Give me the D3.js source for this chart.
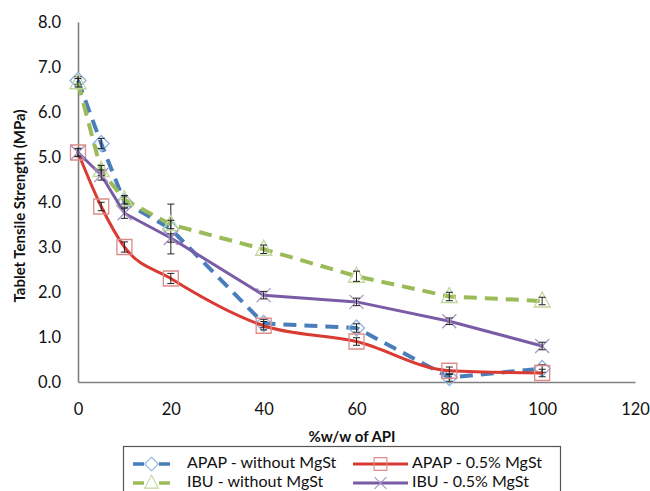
<!DOCTYPE html>
<html>
<head>
<meta charset="utf-8">
<script src="https://cdn.jsdelivr.net/npm/d3@7"></script>
<style>
  html, body { margin: 0; padding: 0; background: #fff; }
  svg { display: block; font-family: Lato, "Open Sans", sans-serif; }
</style>
</head>
<body>
<svg id="chart" width="650" height="491"></svg>
<script>
// API content (%w/w) at which tablets were compacted
const apiContent = [0, 5, 10, 20, 40, 60, 80, 100];

// Tensile strength (MPa) per formulation
const apapWithout = [6.7, 5.3, 4.0, 3.4, 1.3, 1.2, 0.1, 0.3];
const apapMgSt    = [5.1, 3.9, 3.0, 2.3, 1.25, 0.9, 0.25, 0.2];
const ibuWithout  = [6.65, 4.7, 4.05, 3.5, 2.95, 2.35, 1.9, 1.8];
const ibuMgSt     = [5.1, 4.6, 3.75, 3.2, 1.93, 1.78, 1.35, 0.8];

// Standard deviations (MPa)
const apapWithoutSd = [0.05, 0.08, 0.08, 0.52, 0.06, 0.06, 0.05, 0.05];
const apapMgStSd    = [0.06, 0.06, 0.08, 0.08, 0.06, 0.05, 0.05, 0.05];
const ibuWithoutSd  = [0.06, 0.08, 0.06, 0.06, 0.06, 0.08, 0.06, 0.05];
const ibuMgStSd     = [0.05, 0.08, 0.08, 0.06, 0.05, 0.05, 0.04, 0.05];

const seriesNames = ["APAP - without MgSt", "APAP - 0.5% MgSt", "IBU - without MgSt", "IBU - 0.5% MgSt"];
const yTicks = [0, 1, 2, 3, 4, 5, 6, 7, 8];
const xTicks = [0, 20, 40, 60, 80, 100, 120];

const svg = d3.select("#chart");

const x = d3.scaleLinear().domain([0, 120]).range([78, 635]);
const y = d3.scaleLinear().domain([0, 8]).range([382, 22]);

const series = [
  { name: seriesNames[0], values: apapWithout, sd: apapWithoutSd, color: "#4a7ebb", dash: "13,8", width: 4, marker: "diamond",  mColor: "#8db3e2", curve: d3.curveLinear },
  { name: seriesNames[1], values: apapMgSt,    sd: apapMgStSd,    color: "#d93a32", dash: null,   width: 3, marker: "square",   mColor: "#dc8c8a", curve: d3.curveMonotoneX },
  { name: seriesNames[2], values: ibuWithout,  sd: ibuWithoutSd,  color: "#9bbb59", dash: "13,8", width: 4, marker: "triangle", mColor: "#c3d69b", curve: d3.curveLinear },
  { name: seriesNames[3], values: ibuMgSt,     sd: ibuMgStSd,     color: "#7a5ca6", dash: null,   width: 3, marker: "cross",    mColor: "#a995c6", curve: d3.curveLinear }
];

// Axes (lines only, no tick marks)
const yAxis = svg.append("g").attr("transform", `translate(${x(0)},0)`)
  .call(d3.axisLeft(y).tickValues(yTicks).tickSize(0).tickPadding(17).tickFormat(d3.format(".1f")));
const xAxis = svg.append("g").attr("transform", `translate(0,${y(0)})`)
  .call(d3.axisBottom(x).tickValues(xTicks).tickSize(0).tickPadding(21).tickFormat(d3.format("d")));
[yAxis, xAxis].forEach(g => {
  g.select(".domain").attr("stroke", "#7f7f7f").attr("stroke-width", 1.6);
  g.selectAll("text").attr("fill", "#111").attr("font-size", 16.5)
    .attr("font-family", "Lato, sans-serif").attr("font-weight", 400);
});

// Axis titles
svg.append("text")
  .attr("transform", `translate(21,${(y(0) + y(8)) / 2 + 4}) rotate(-90)`)
  .attr("text-anchor", "middle").attr("dominant-baseline", "middle")
  .attr("font-size", 15).attr("font-weight", 700).attr("fill", "#111")
  .text("Tablet Tensile Strength (MPa)");
svg.append("text")
  .attr("x", 352).attr("y", 438)
  .attr("text-anchor", "middle").attr("dominant-baseline", "middle")
  .attr("font-size", 15).attr("font-weight", 700).attr("fill", "#111")
  .text("%w/w of API");

function markerPath(type) {
  switch (type) {
    case "diamond":  return "M0,-8L8,0L0,8L-8,0Z";
    case "square":   return "M-7.5,-7.5H7.5V7.5H-7.5Z";
    case "triangle": return "M0,-9L8,6H-8Z";
    case "cross":    return "M-7,-7L7,7M7,-7L-7,7";
  }
}

function drawMarker(g, s, cx, cy, sizeScale) {
  g.append("path")
    .attr("transform", `translate(${cx},${cy}) scale(${sizeScale})`)
    .attr("d", markerPath(s.marker))
    .attr("fill", "none")
    .attr("stroke", s.mColor)
    .attr("stroke-width", 1.3);
}

series.forEach(s => {
  const g = svg.append("g");
  const line = d3.line()
    .x((d, i) => x(apiContent[i]))
    .y(d => y(d))
    .curve(s.curve);
  const p = g.append("path").datum(s.values)
    .attr("d", line)
    .attr("fill", "none")
    .attr("stroke", s.color)
    .attr("stroke-width", s.width)
    .attr("stroke-linejoin", "round")
    .attr("stroke-linecap", s.dash ? "butt" : "round");
  if (s.dash) p.attr("stroke-dasharray", s.dash);

  s.values.forEach((v, i) => {
    const cx = x(apiContent[i]), cy = y(v);
    drawMarker(g, s, cx, cy, 1);
    // SD error bar with caps, plus a short horizontal tick at the mean
    const e = g.append("g").attr("stroke", "#222").attr("stroke-width", 1).attr("fill", "none");
    const top = y(v + s.sd[i]) - 1.5, bot = y(v - s.sd[i]) + 1.5;
    e.append("line").attr("x1", cx).attr("x2", cx).attr("y1", top).attr("y2", bot);
    e.append("line").attr("x1", cx - 3.5).attr("x2", cx + 3.5).attr("y1", top).attr("y2", top);
    e.append("line").attr("x1", cx - 3.5).attr("x2", cx + 3.5).attr("y1", bot).attr("y2", bot);
  });
});

// Legend
const legend = svg.append("g");
legend.append("rect")
  .attr("x", 123.5).attr("y", 446.5).attr("width", 437).attr("height", 60)
  .attr("fill", "#fff").attr("stroke", "#555").attr("stroke-width", 1.2);

const legendPos = [
  { lx: 133, lw: 37, tx: 187, ty: 464 },
  { lx: 353, lw: 55, tx: 412, ty: 464 },
  { lx: 133, lw: 37, tx: 187, ty: 483 },
  { lx: 353, lw: 55, tx: 412, ty: 483 }
];
series.forEach((s, i) => {
  const pos = legendPos[i];
  const l = legend.append("line")
    .attr("x1", pos.lx).attr("x2", pos.lx + pos.lw)
    .attr("y1", pos.ty).attr("y2", pos.ty)
    .attr("stroke", s.color).attr("stroke-width", s.dash ? 3.5 : 3);
  if (s.dash) l.attr("stroke-dasharray", "11,15");
  drawMarker(legend, s, pos.lx + pos.lw / 2, pos.ty, 0.85);
  legend.append("text")
    .attr("x", pos.tx).attr("y", pos.ty)
    .attr("dominant-baseline", "middle")
    .attr("font-size", 16).attr("fill", "#111")
    .text(s.name);
});
</script>
</body>
</html>
